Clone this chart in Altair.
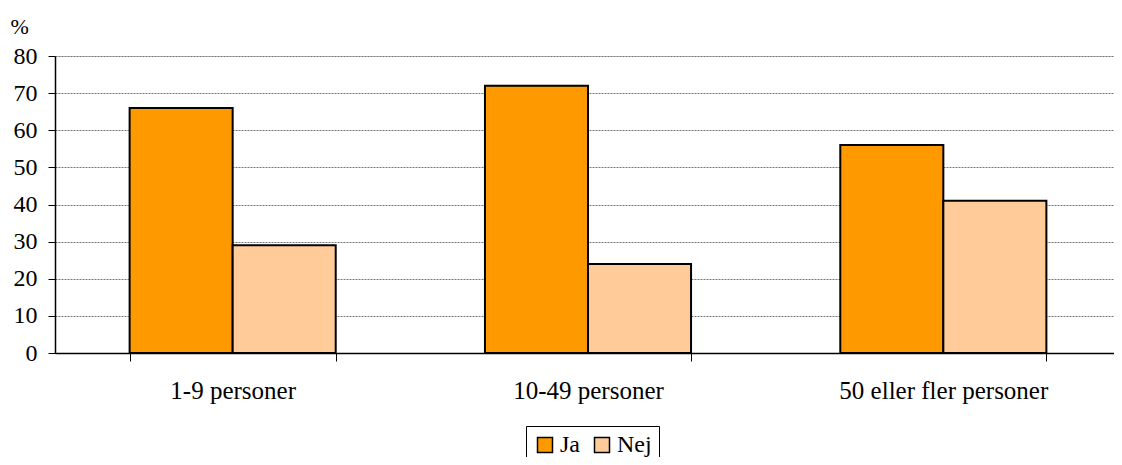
import altair as alt
import pandas as pd

categories = ["1-9 personer", "10-49 personer", "50 eller fler personer"]
series = ["Ja", "Nej"]
ja_values = [66, 72, 56]
nej_values = [29, 24, 41]
y_ticks = [0, 10, 20, 30, 40, 50, 60, 70, 80]

rows = []
for c, v in zip(categories, ja_values):
    rows.append({"kategori": c, "svar": "Ja", "procent": v})
for c, v in zip(categories, nej_values):
    rows.append({"kategori": c, "svar": "Nej", "procent": v})
df = pd.DataFrame(rows)

FONT = "'Times New Roman', 'Liberation Serif', serif"

chart = (
    alt.Chart(df)
    .mark_bar(stroke="black", strokeWidth=2)
    .encode(
        x=alt.X(
            "kategori:N",
            sort=categories,
            scale=alt.Scale(paddingInner=0.42, paddingOuter=0.21, range=[0, 1066]),
            axis=alt.Axis(
                title=None,
                labelAngle=0,
                labelFont=FONT,
                labelFontSize=25,
                labelColor="black",
                labelPadding=17,
                labelLimit=0,
                tickBand="extent",
                tickColor="black",
                tickSize=8,
                domainColor="black",
                domainWidth=1.5,
                grid=False,
            ),
        ),
        xOffset=alt.XOffset("svar:N", sort=series, scale=alt.Scale(paddingInner=0, paddingOuter=0)),
        y=alt.Y(
            "procent:Q",
            scale=alt.Scale(domain=[0, 80], nice=False),
            axis=alt.Axis(
                values=y_ticks,
                title="%",
                titleAngle=0,
                titleAlign="left",
                titleBaseline="alphabetic",
                titleX=-45,
                titleY=-23,
                titleFont=FONT,
                titleFontSize=22,
                titleFontWeight="normal",
                titleColor="black",
                labelFont=FONT,
                labelFontSize=24,
                labelColor="black",
                labelPadding=11,
                tickColor="black",
                tickSize=7,
                domainColor="black",
                domainWidth=1.5,
                grid=True,
                gridColor="#777777",
                gridDash=[2, 1],
                gridWidth=1,
            ),
        ),
        color=alt.Color(
            "svar:N",
            sort=series,
            scale=alt.Scale(domain=series, range=["#FF9900", "#FFCC99"]),
            legend=alt.Legend(
                title=None,
                orient="none",
                legendX=471,
                legendY=370,
                direction="horizontal",
                symbolType="square",
                symbolSize=225,
                symbolStrokeColor="black",
                symbolStrokeWidth=1.5,
                labelFont=FONT,
                labelFontSize=24,
                labelColor="black",
                strokeColor="black",
                padding=7,
                columnPadding=10,
                labelOffset=3,
            ),
        ),
    )
    .properties(
        width=1059,
        height=297,
        padding={"left": 47, "top": 48, "right": 0, "bottom": 104},
        autosize=alt.AutoSizeParams(type="none"),
    )
    .configure_view(stroke="#999999", strokeWidth=1.5)
    .configure(background="white")
)

chart.save("out.html", embed_options={"renderer": "svg", "actions": False})
